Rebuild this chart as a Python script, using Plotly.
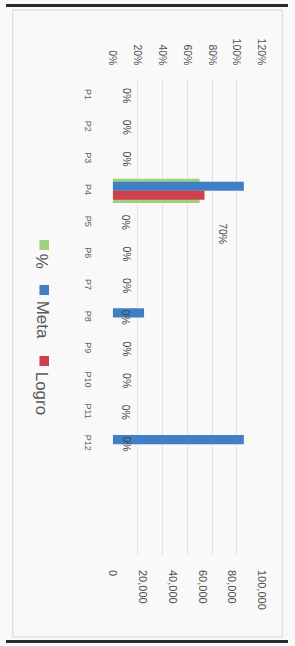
import plotly.graph_objects as go

categories = ["P1", "P2", "P3", "P4", "P5", "P6", "P7", "P8", "P9", "P10", "P11", "P12"]
pct = [0, 0, 0, 0.70, 0, 0, 0, 0, 0, 0, 0, 0]
meta = [0, 0, 0, 88000, 0, 0, 0, 21000, 0, 0, 0, 88000]
logro = [0, 0, 0, 61600, 0, 0, 0, 0, 0, 0, 0, 0]
pct_ticks = [0, 0.2, 0.4, 0.6, 0.8, 1.0, 1.2]
num_ticks = [0, 20000, 40000, 60000, 80000, 100000]
series_names = ["%", "Meta", "Logro"]

W, H = 295, 646
GREEN, BLUE, RED = "#9dd27b", "#3f7fc6", "#cf3f4f"


def px(x):
    return x / W


def py(y):
    return 1 - y / H


fig = go.Figure()
fig.add_trace(go.Bar(orientation="h", y=categories, x=pct, name="%",
                     marker=dict(color=GREEN, line=dict(width=0)),
                     width=0.77, offset=-0.385, xaxis="x", yaxis="y"))
fig.add_trace(go.Bar(orientation="h", y=categories, x=meta, name="Meta",
                     marker=dict(color=BLUE, line=dict(width=0)),
                     width=0.29, offset=-0.29, xaxis="x2", yaxis="y"))
fig.add_trace(go.Bar(orientation="h", y=categories, x=logro, name="Logro",
                     marker=dict(color=RED, line=dict(width=0)),
                     width=0.28, offset=0.0, xaxis="x2", yaxis="y"))

dom_x = [px(111.7), px(267.5)]
dom_y = [py(555), py(80)]

annotations = []
for c, v in zip(categories, pct):
    if v > 0:
        annotations.append(dict(x=v, y=c, xref="x", yref="y", text=f"{v:.0%}",
                                showarrow=False, textangle=90, xshift=24, yshift=-43,
                                xanchor="center", yanchor="middle",
                                font=dict(family="Liberation Sans", size=10.5, color="#404040")))
    else:
        annotations.append(dict(x=v, y=c, xref="x", yref="y", text=f"{v:.0%}",
                                showarrow=False, textangle=90, xshift=14,
                                xanchor="center", yanchor="middle",
                                font=dict(family="Liberation Sans", size=10.5, color="#404040")))

# legend (rotated like the chart)
leg_colors = [GREEN, BLUE, RED]
leg_sq_y = [245, 290, 361]
leg_txt_y = [261, 320, 393]
shapes = []
for name, col, sy, ty in zip(series_names, leg_colors, leg_sq_y, leg_txt_y):
    shapes.append(dict(type="rect", xref="paper", yref="paper",
                       x0=px(35), x1=px(45), y0=py(sy + 5), y1=py(sy - 5),
                       fillcolor=col, line=dict(width=0)))
    annotations.append(dict(x=px(38), y=py(ty), xref="paper", yref="paper", text=name,
                            showarrow=False, textangle=90, xanchor="center", yanchor="middle",
                            font=dict(family="Liberation Sans", size=17, color="#595959")))

# chart frame and scan borders
shapes.append(dict(type="rect", xref="paper", yref="paper", x0=px(7), x1=px(289),
                   y0=py(637), y1=py(10), line=dict(color="#d6d6d6", width=1)))
shapes.append(dict(type="line", xref="paper", yref="paper", x0=0, x1=1,
                   y0=py(5.5), y1=py(5.5), line=dict(color="#2a2a30", width=3)))
shapes.append(dict(type="line", xref="paper", yref="paper", x0=0, x1=1,
                   y0=py(641.5), y1=py(641.5), line=dict(color="#2a2a30", width=3)))

fig.update_layout(
    width=W, height=H,
    margin=dict(l=0, r=0, t=0, b=0),
    paper_bgcolor="#f9f9f9", plot_bgcolor="#f9f9f9",
    barmode="overlay", showlegend=False,
    xaxis=dict(domain=dom_x, anchor="y", side="top", range=[0, 1.2],
               tickvals=pct_ticks, tickformat=".0%", tickangle=90,
               showgrid=True, gridcolor="#e2e2e2", gridwidth=1, zeroline=False,
               showline=False, ticks="", ticklabelstandoff=12,
               tickfont=dict(family="Liberation Sans", size=10.5, color="#505050")),
    xaxis2=dict(domain=dom_x, anchor="y", overlaying="x", side="bottom", range=[0, 100000],
                tickvals=num_ticks, tickformat=",", tickangle=90,
                showgrid=False, zeroline=False, showline=False, ticks="", ticklabelstandoff=14,
                tickfont=dict(family="Liberation Sans", size=11, color="#505050")),
    yaxis=dict(domain=dom_y, anchor="x", type="category", range=[14.5, -0.5],
               tickangle=90, showgrid=False, zeroline=False, showline=False, ticks="",
               ticklabelstandoff=18,
               tickfont=dict(family="Liberation Sans", size=9, color="#606060")),
    annotations=annotations, shapes=shapes,
)

fig.write_html("out.html", config={"displayModeBar": False},
               post_script="document.body.style.margin='0';document.body.style.overflow='hidden';")
